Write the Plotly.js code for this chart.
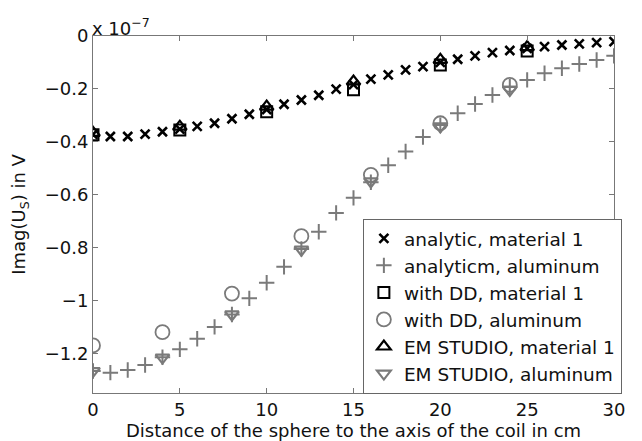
<!DOCTYPE html>
<html>
<head>
<meta charset="utf-8">
<script src="https://cdn.plot.ly/plotly-3.0.1.min.js"></script>
<style>html,body{margin:0;padding:0;background:#fff}#chart{width:642px;height:441px}</style>
</head>
<body>
<div id="chart"></div>
<script>
// values in units of 1e-7 V
const xAnalytic = [0,1,2,3,4,5,6,7,8,9,10,11,12,13,14,15,16,17,18,19,20,21,22,23,24,25,26,27,28,29,30];
const analyticMat1 = [-0.372,-0.38,-0.38,-0.371,-0.362,-0.352,-0.342,-0.33,-0.313,-0.296,-0.278,-0.258,-0.242,-0.224,-0.201,-0.184,-0.163,-0.147,-0.128,-0.116,-0.10,-0.088,-0.075,-0.063,-0.055,-0.047,-0.04,-0.034,-0.03,-0.025,-0.021];
const analyticAlu = [-1.267,-1.273,-1.263,-1.244,-1.215,-1.185,-1.145,-1.10,-1.053,-0.992,-0.933,-0.873,-0.805,-0.74,-0.669,-0.612,-0.553,-0.489,-0.437,-0.382,-0.337,-0.292,-0.257,-0.223,-0.192,-0.166,-0.141,-0.122,-0.106,-0.091,-0.075];
const xMat1 = [0,5,10,15,20,25];
const ddMat1 = [-0.373,-0.355,-0.286,-0.203,-0.11,-0.057];
const emMat1 = [-0.366,-0.343,-0.267,-0.172,-0.09,-0.042];
const xAlu = [0,4,8,12,16,20,24];
const ddAlu = [-1.17,-1.12,-0.974,-0.757,-0.525,-0.33,-0.185];
const emAlu = [-1.267,-1.216,-1.053,-0.808,-0.55,-0.342,-0.204];
const names = ["analytic, material 1","analyticm, aluminum","with DD, material 1","with DD, aluminum","EM STUDIO, material 1","EM STUDIO, aluminum"];

const BLACK = "#000000", GRAY = "#7a7a7a";
function tr(x, y, name, symbol, color, size, lw) {
  return {x: x, y: y, name: name, type: "scatter", mode: "markers",
    marker: {symbol: symbol, size: size, color: color, line: {color: color, width: lw}},
    hoverinfo: "skip"};
}
const data = [
  tr(xAnalytic, analyticMat1, names[0], "x-thin-open", BLACK, 9, 2.6),
  tr(xAnalytic, analyticAlu, names[1], "cross-thin-open", GRAY, 11, 2),
  tr(xMat1, ddMat1, names[2], "square-open", BLACK, 11, 2),
  tr(xAlu, ddAlu, names[3], "circle-open", GRAY, 14, 1.8),
  tr(xMat1, emMat1, names[4], "triangle-up-open", BLACK, 12, 2.2),
  tr(xAlu, emAlu, names[5], "triangle-down-open", GRAY, 12, 2.2)
];
const FONT = "DejaVu Sans, Liberation Sans, Arial, sans-serif";
const TXT = {family: FONT, size: 18, color: "#111"};
const axisCommon = {showgrid: false, zeroline: false, showline: true, linecolor: "#777", linewidth: 1,
  mirror: "ticks", ticks: "inside", ticklen: 5, tickcolor: "#777",
  tickfont: TXT};
const layout = {
  width: 642, height: 441,
  margin: {l: 93, r: 28, t: 36, b: 48},
  paper_bgcolor: "#fff", plot_bgcolor: "#fff",
  font: TXT,
  showlegend: true,
  legend: {x: 0.518, y: 0.488, xanchor: "left", yanchor: "top",
    bgcolor: "#fff", bordercolor: "#666", borderwidth: 1,
    font: {family: FONT, size: 18.5, color: "#111"}},
  xaxis: Object.assign({}, axisCommon, {range: [0, 30], tick0: 0, dtick: 5,
    title: {text: "Distance of the sphere to the axis of the coil in cm", font: TXT, standoff: 2}}),
  yaxis: Object.assign({}, axisCommon, {range: [-1.35, 0], tick0: 0, dtick: 0.2,
    title: {text: "Imag(U<sub>S</sub>) in V", font: TXT, standoff: 14}}),
  annotations: [{xref: "paper", yref: "paper", x: 0, y: 1, xanchor: "left", yanchor: "bottom",
    text: "x 10<sup>−7</sup>", showarrow: false, font: TXT, xshift: -3, yshift: -5}]
};
Plotly.newPlot("chart", data, layout, {staticPlot: true, displayModeBar: false});
</script>
</body>
</html>
